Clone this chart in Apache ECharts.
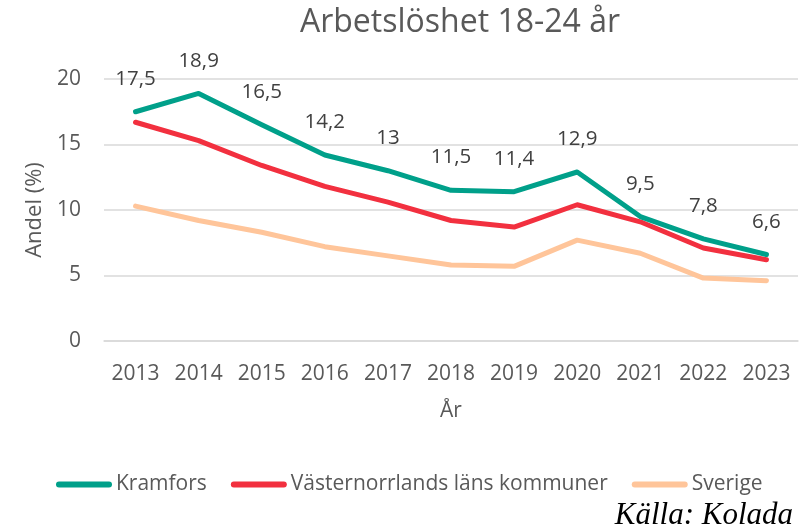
<!DOCTYPE html>
<html><head><meta charset="utf-8">
<script src="https://cdn.jsdelivr.net/npm/echarts@6/dist/echarts.min.js"></script>
<style>html,body{margin:0;padding:0;background:#fff}#c{width:806px;height:526px}</style>
</head><body><div id="c"></div>
<script>
const years = ['2013','2014','2015','2016','2017','2018','2019','2020','2021','2022','2023'];
const kramfors = [17.5,18.9,16.5,14.2,13,11.5,11.4,12.9,9.5,7.8,6.6];
const vasternorrland = [16.7,15.3,13.4,11.8,10.6,9.2,8.7,10.4,9.1,7.1,6.2];
const sverige = [10.3,9.2,8.3,7.2,6.5,5.8,5.7,7.7,6.7,4.8,4.6];
const seriesNames = ['Kramfors','Västernorrlands läns kommuner','Sverige'];
const colors = ['#00A08A','#F2303F','#FFC59A'];
const font = '"Open Sans", sans-serif';
const chart = echarts.init(document.getElementById('c'));
const mk = (name, data, color, labels) => ({
  name, type:'line', data, symbol:'circle', symbolSize:0.5, showSymbol:true, smooth:false,
  lineStyle:{color, width:5, cap:'round', join:'round'},
  itemStyle:{color},
  label: labels ? {show:true, position:'top', distance:22, color:'#404040', fontSize:20.5, fontFamily:font,
    formatter: p => String(p.value).replace('.', ',')} : {show:false},
  emphasis:{disabled:true},
  z: labels ? 5 : 3
});
chart.setOption({
  animation:false,
  title:{text:'Arbetslöshet 18-24 år', left:455, top:2, textAlign:'center',
    textStyle:{color:'#595959', fontSize:32, fontWeight:'normal', fontFamily:font}},
  grid:{left:104, right:8, top:79, bottom:185},
  legend:{data:seriesNames, left:51, top:469, itemWidth:56, itemHeight:6, itemGap:24,
    icon:'path://M3,0 L53,0 A3,3 0 0 1 53,6 L3,6 A3,3 0 0 1 3,0 Z',
    textStyle:{color:'#595959', fontSize:21, fontFamily:font, padding:[0,0,0,-1]}},
  xAxis:{type:'category', data:years, boundaryGap:true, name:'År', nameLocation:'middle', nameGap:60,
    nameTextStyle:{color:'#595959', fontSize:21, fontFamily:font},
    axisLine:{show:true, lineStyle:{color:'#D9D9D9', width:1.5}}, axisTick:{show:false},
    axisLabel:{color:'#595959', fontSize:21, fontFamily:font, margin:23}},
  yAxis:{type:'value', min:0, max:20, interval:5, name:'Andel (%)', nameLocation:'middle', nameGap:58,
    nameTextStyle:{color:'#595959', fontSize:22, fontFamily:font},
    axisLine:{show:false}, axisTick:{show:false},
    splitLine:{lineStyle:{color:'#D9D9D9', width:1.5}},
    axisLabel:{color:'#595959', fontSize:21, fontFamily:font, margin:23}},
  graphic:[{type:'text', x:793, y:531, style:{text:'Källa: Kolada', fill:'#000', align:'right', verticalAlign:'bottom',
    font:'italic 31px "Liberation Serif", "DejaVu Serif", serif'}}],
  series:[mk(seriesNames[0], kramfors, colors[0], true),
          mk(seriesNames[1], vasternorrland, colors[1], false),
          mk(seriesNames[2], sverige, colors[2], false)]
});
</script></body></html>
